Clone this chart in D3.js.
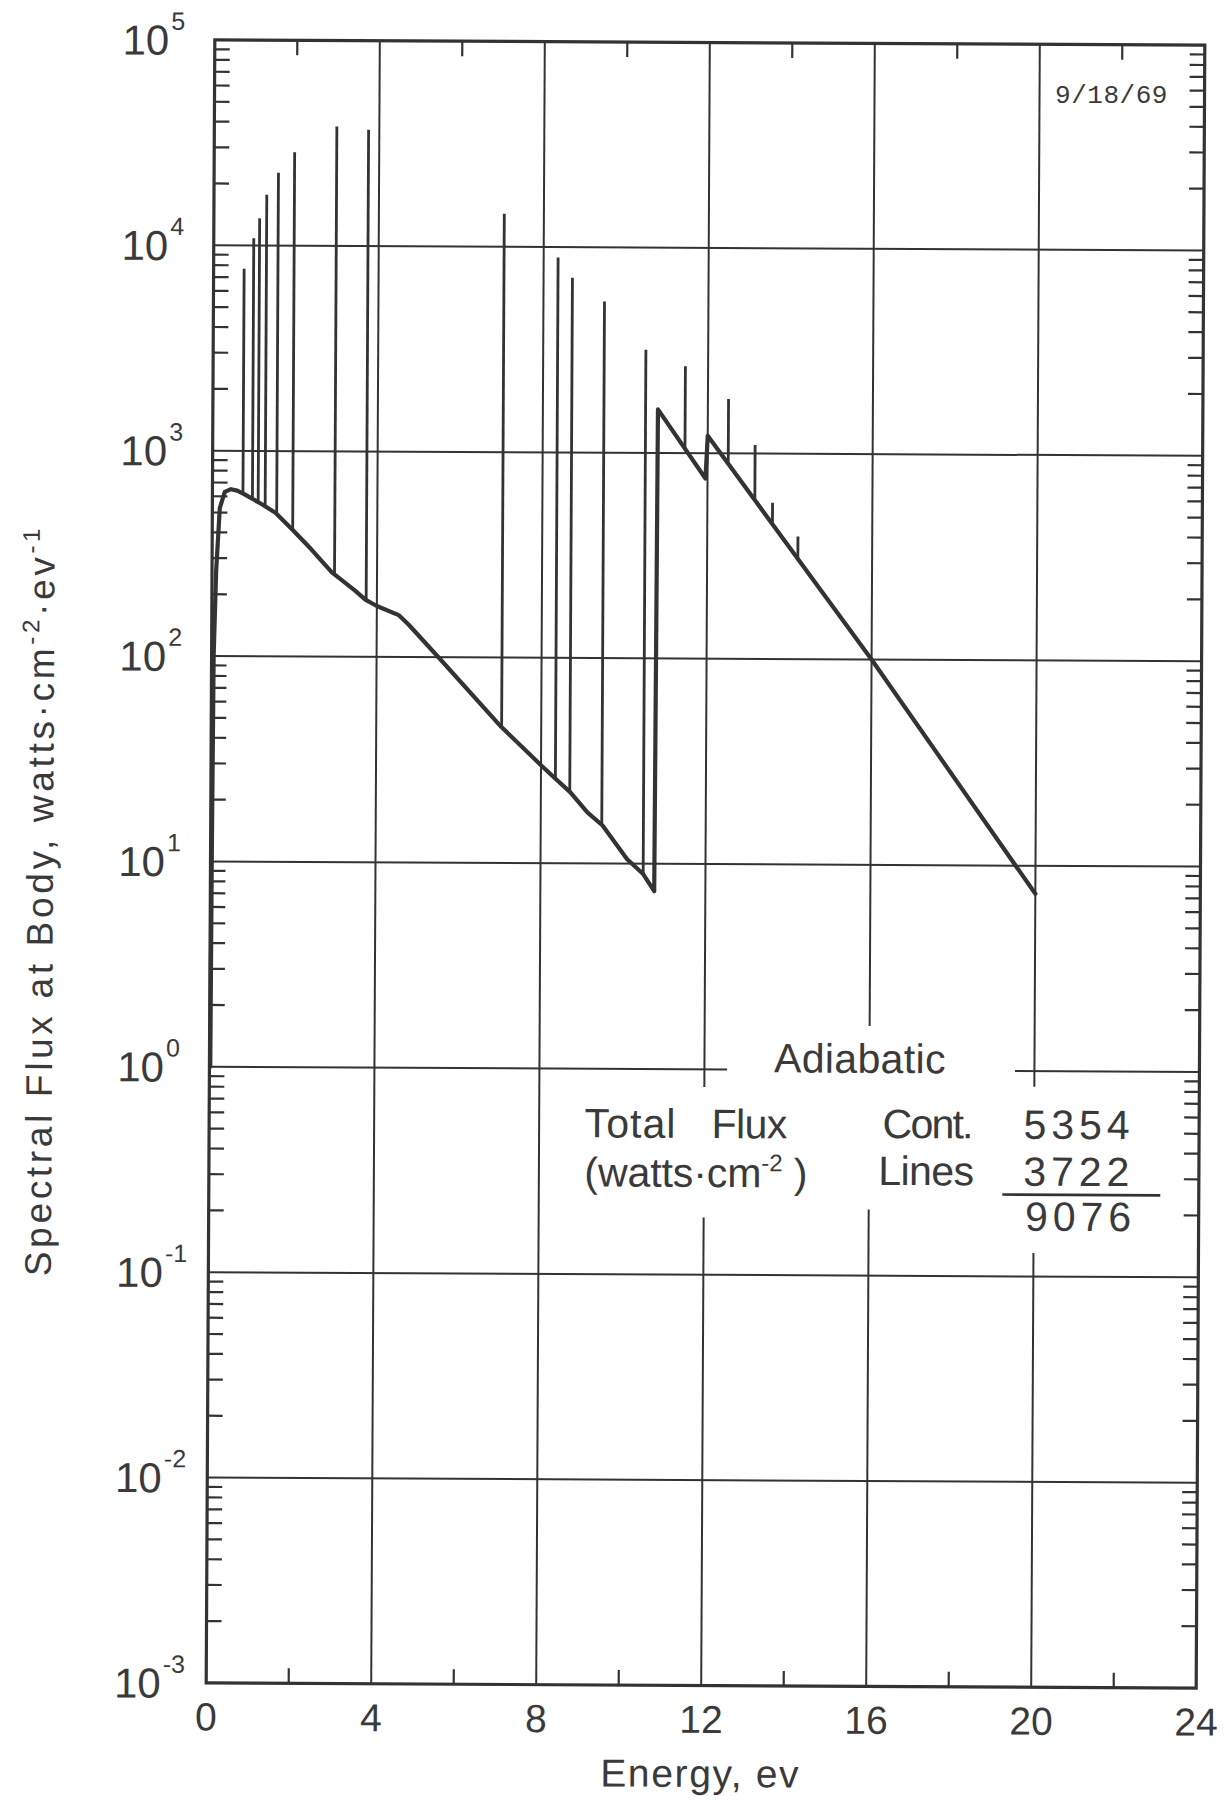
<!DOCTYPE html>
<html><head><meta charset="utf-8">
<script src="https://cdn.jsdelivr.net/npm/d3@7"></script>
<style>
html,body{margin:0;padding:0;background:#fff;}
svg{display:block;}
text{font-family:"Liberation Sans",Arial,sans-serif;fill:#3a3a3a;}
</style></head><body>
<svg id="chart" width="1226" height="1807"></svg>
<script>
// ---------------- data ----------------
const contEnergy = [0.02,0.03,0.05,0.10,0.18,0.30,0.45,0.60,0.77,1.20,1.53,1.94,2.42,2.90,3.47,3.72,4.00,4.53,4.77,5.50,7.03,8.00,8.36,8.71,9.13,9.50,10.10,10.49,10.76,10.79,11.95,12.00,16.00,20.00];
const contFlux   = [1.0,10,100,260,525,630,650,640,615,550,500,415,330,258,210,190,177,160,144,100,46,30,25.7,22.2,17.7,15.3,10.5,8.9,7.35,1630,753,1216,100,7.3];
const lineEnergy = [0.74,0.97,1.11,1.28,1.56,1.95,2.97,3.74,7.04,8.35,8.70,9.48,10.49,11.45,12.50,13.15,13.58,14.20];
const linePeak   = [7710,10850,13560,17700,22650,28500,38200,36900,14500,8900,7100,5450,3180,2650,1840,1100,577,395];
const xTickValues = [0,4,8,12,16,20,24];
const xMinorTicks = [2,6,10,14,18,22];
const xGridValues = [4,8,12,16,20];
const yDecadeExponents = [5,4,3,2,1,0,-1,-2,-3];
// gaps left in grid lines around the annotation block (energy / flux units)
const vGridGaps = [{e:12, hi:0.82, lo:0.19},{e:16, hi:1.64, lo:0.21},{e:20, hi:0.84, lo:0.13}];
const hGridGaps = [{f:1, from:12.55, to:19.53}];
const annotTitle = "Adiabatic";
const totalsLabels = ["Cont.","Lines"];
const totalsValues = ["5354","3722"];
const totalSum = "9076";
const dateStamp = "9/18/69";

// ---------------- layout ----------------
const svg = d3.select("#chart");
svg.append("rect").attr("width",1226).attr("height",1807).attr("fill","#fff");
const L=210.5, R=1200.5, T=42.5, B=1685.5;
const ink = "#333";
const x = d3.scaleLinear().domain([0,24]).range([L,R]);
const y = d3.scaleLog().domain([1e-3,1e5]).range([B,T]);

const g = svg.append("g").attr("transform","rotate(0.3,705.5,864)");

function fit(sel, target){
  const n = sel.text().length;
  const len = sel.node().getComputedTextLength();
  sel.style("letter-spacing", ((target-len)/n)+"px");
  return sel;
}

// horizontal grid lines (decades)
const grid = g.append("g").attr("stroke",ink).attr("stroke-width",2).attr("fill","none");
yDecadeExponents.forEach(k=>{
  const v = Math.pow(10,k);
  if (k===5 || k===-3) return;
  const gap = hGridGaps.find(d=>d.f===v);
  if (gap){
    grid.append("line").attr("x1",x(0)).attr("x2",x(gap.from)).attr("y1",y(v)).attr("y2",y(v));
    grid.append("line").attr("x1",x(gap.to)).attr("x2",x(24)).attr("y1",y(v)).attr("y2",y(v));
  } else {
    grid.append("line").attr("x1",x(0)).attr("x2",x(24)).attr("y1",y(v)).attr("y2",y(v));
  }
});
// vertical grid lines
xGridValues.forEach(e=>{
  const gap = vGridGaps.find(d=>d.e===e);
  if (gap){
    grid.append("line").attr("x1",x(e)).attr("x2",x(e)).attr("y1",y(1e5)).attr("y2",y(gap.hi));
    grid.append("line").attr("x1",x(e)).attr("x2",x(e)).attr("y1",y(gap.lo)).attr("y2",y(1e-3));
  } else {
    grid.append("line").attr("x1",x(e)).attr("x2",x(e)).attr("y1",y(1e5)).attr("y2",y(1e-3));
  }
});

// minor ticks
const ticks = g.append("g").attr("stroke",ink).attr("stroke-width",2.2);
const tl = 15;
for (let k=-3;k<5;k++){
  for (let m=2;m<=9;m++){
    const v = m*Math.pow(10,k);
    ticks.append("line").attr("x1",x(0)).attr("x2",x(0)+tl).attr("y1",y(v)).attr("y2",y(v));
    ticks.append("line").attr("x1",x(24)-tl).attr("x2",x(24)).attr("y1",y(v)).attr("y2",y(v));
  }
}
xMinorTicks.forEach(e=>{
  ticks.append("line").attr("x1",x(e)).attr("x2",x(e)).attr("y1",y(1e-3)).attr("y2",y(1e-3)-tl);
  ticks.append("line").attr("x1",x(e)).attr("x2",x(e)).attr("y1",y(1e5)).attr("y2",y(1e5)+tl);
});

// frame
g.append("rect").attr("x",L).attr("y",T).attr("width",R-L).attr("height",B-T)
  .attr("fill","none").attr("stroke",ink).attr("stroke-width",3.2);

// continuum curve
const cont = contEnergy.map((e,i)=>[e,contFlux[i]]);
const lineGen = d3.line().x(d=>x(d[0])).y(d=>y(d[1])).curve(d3.curveLinear);
g.append("path").datum(cont).attr("d",lineGen)
  .attr("fill","none").attr("stroke",ink).attr("stroke-width",4.2)
  .attr("stroke-linejoin","round").attr("stroke-linecap","round");

// spectral lines: from continuum up to peak
function contAt(e){
  for (let i=0;i<cont.length-1;i++){
    if (e>=cont[i][0] && e<=cont[i+1][0]){
      const t=(e-cont[i][0])/(cont[i+1][0]-cont[i][0]);
      return Math.pow(10, Math.log10(cont[i][1])*(1-t)+Math.log10(cont[i+1][1])*t);
    }
  }
  return cont[cont.length-1][1];
}
g.append("g").selectAll("line").data(lineEnergy).join("line")
  .attr("x1",d=>x(d)).attr("x2",d=>x(d))
  .attr("y1",d=>y(contAt(d))).attr("y2",(d,i)=>y(linePeak[i]))
  .attr("stroke",ink).attr("stroke-width",2.8);

// y tick labels
yDecadeExponents.forEach(k=>{
  const yy = y(Math.pow(10,k))+15;
  g.append("text").attr("x",165).attr("y",yy).attr("text-anchor","end")
    .attr("font-size",42).text("10");
  g.append("text").attr("x",167).attr("y",yy-25).attr("text-anchor","start")
    .attr("font-size",25).text(k<0 ? "-"+(-k) : String(k));
});

// x tick labels
xTickValues.forEach(e=>{
  g.append("text").attr("x",x(e)).attr("y",1733).attr("text-anchor","middle")
    .attr("font-size",39).text(String(e));
});

// axis titles
fit(g.append("text").attr("x",705).attr("y",1787).attr("text-anchor","middle")
  .attr("font-size",39).text("Energy, ev"), 200);

const yt = g.append("text").attr("transform","translate(53,904) rotate(-90)")
  .attr("text-anchor","middle").attr("font-size",37);
yt.append("tspan").text("Spectral Flux at Body,  watts\u00B7cm");
yt.append("tspan").attr("dy",-15).attr("font-size",24).text("-2");
yt.append("tspan").attr("dy",15).text("\u00B7ev");
yt.append("tspan").attr("dy",-15).attr("font-size",24).text("-1");
fit(yt, 755);

// annotation block
fit(g.append("text").attr("x",775).attr("y",1072).attr("font-size",41).text(annotTitle),172);
fit(g.append("text").attr("x",586).attr("y",1138).attr("font-size",41).text("Total"),92);
fit(g.append("text").attr("x",713).attr("y",1138).attr("font-size",41).text("Flux"),75);
const wc = g.append("text").attr("x",586).attr("y",1187).attr("font-size",41);
wc.append("tspan").text("(watts\u00B7cm");
wc.append("tspan").attr("dy",-16).attr("font-size",24).text("-2");
wc.append("tspan").attr("dy",16).text(" )");
fit(wc,223);
totalsLabels.forEach((t,i)=>{
  fit(g.append("text").attr("x",i===0?884:880).attr("y",i===0?1137:1184).attr("font-size",41).text(t), i===0?89:95);
});
totalsValues.forEach((t,i)=>{
  fit(g.append("text").attr("x",1025).attr("y",i===0?1137:1184).attr("font-size",41).text(t),111);
});
g.append("line").attr("x1",1004).attr("x2",1162).attr("y1",1193).attr("y2",1193)
  .attr("stroke",ink).attr("stroke-width",2.6);
fit(g.append("text").attr("x",1027).attr("y",1229).attr("font-size",41).text(totalSum),111);

// date stamp
fit(svg.append("text").attr("x",1055).attr("y",103)
  .style("font-family","'Liberation Mono','DejaVu Sans Mono',monospace")
  .attr("font-size",26).text(dateStamp),113);
</script>
</body></html>
